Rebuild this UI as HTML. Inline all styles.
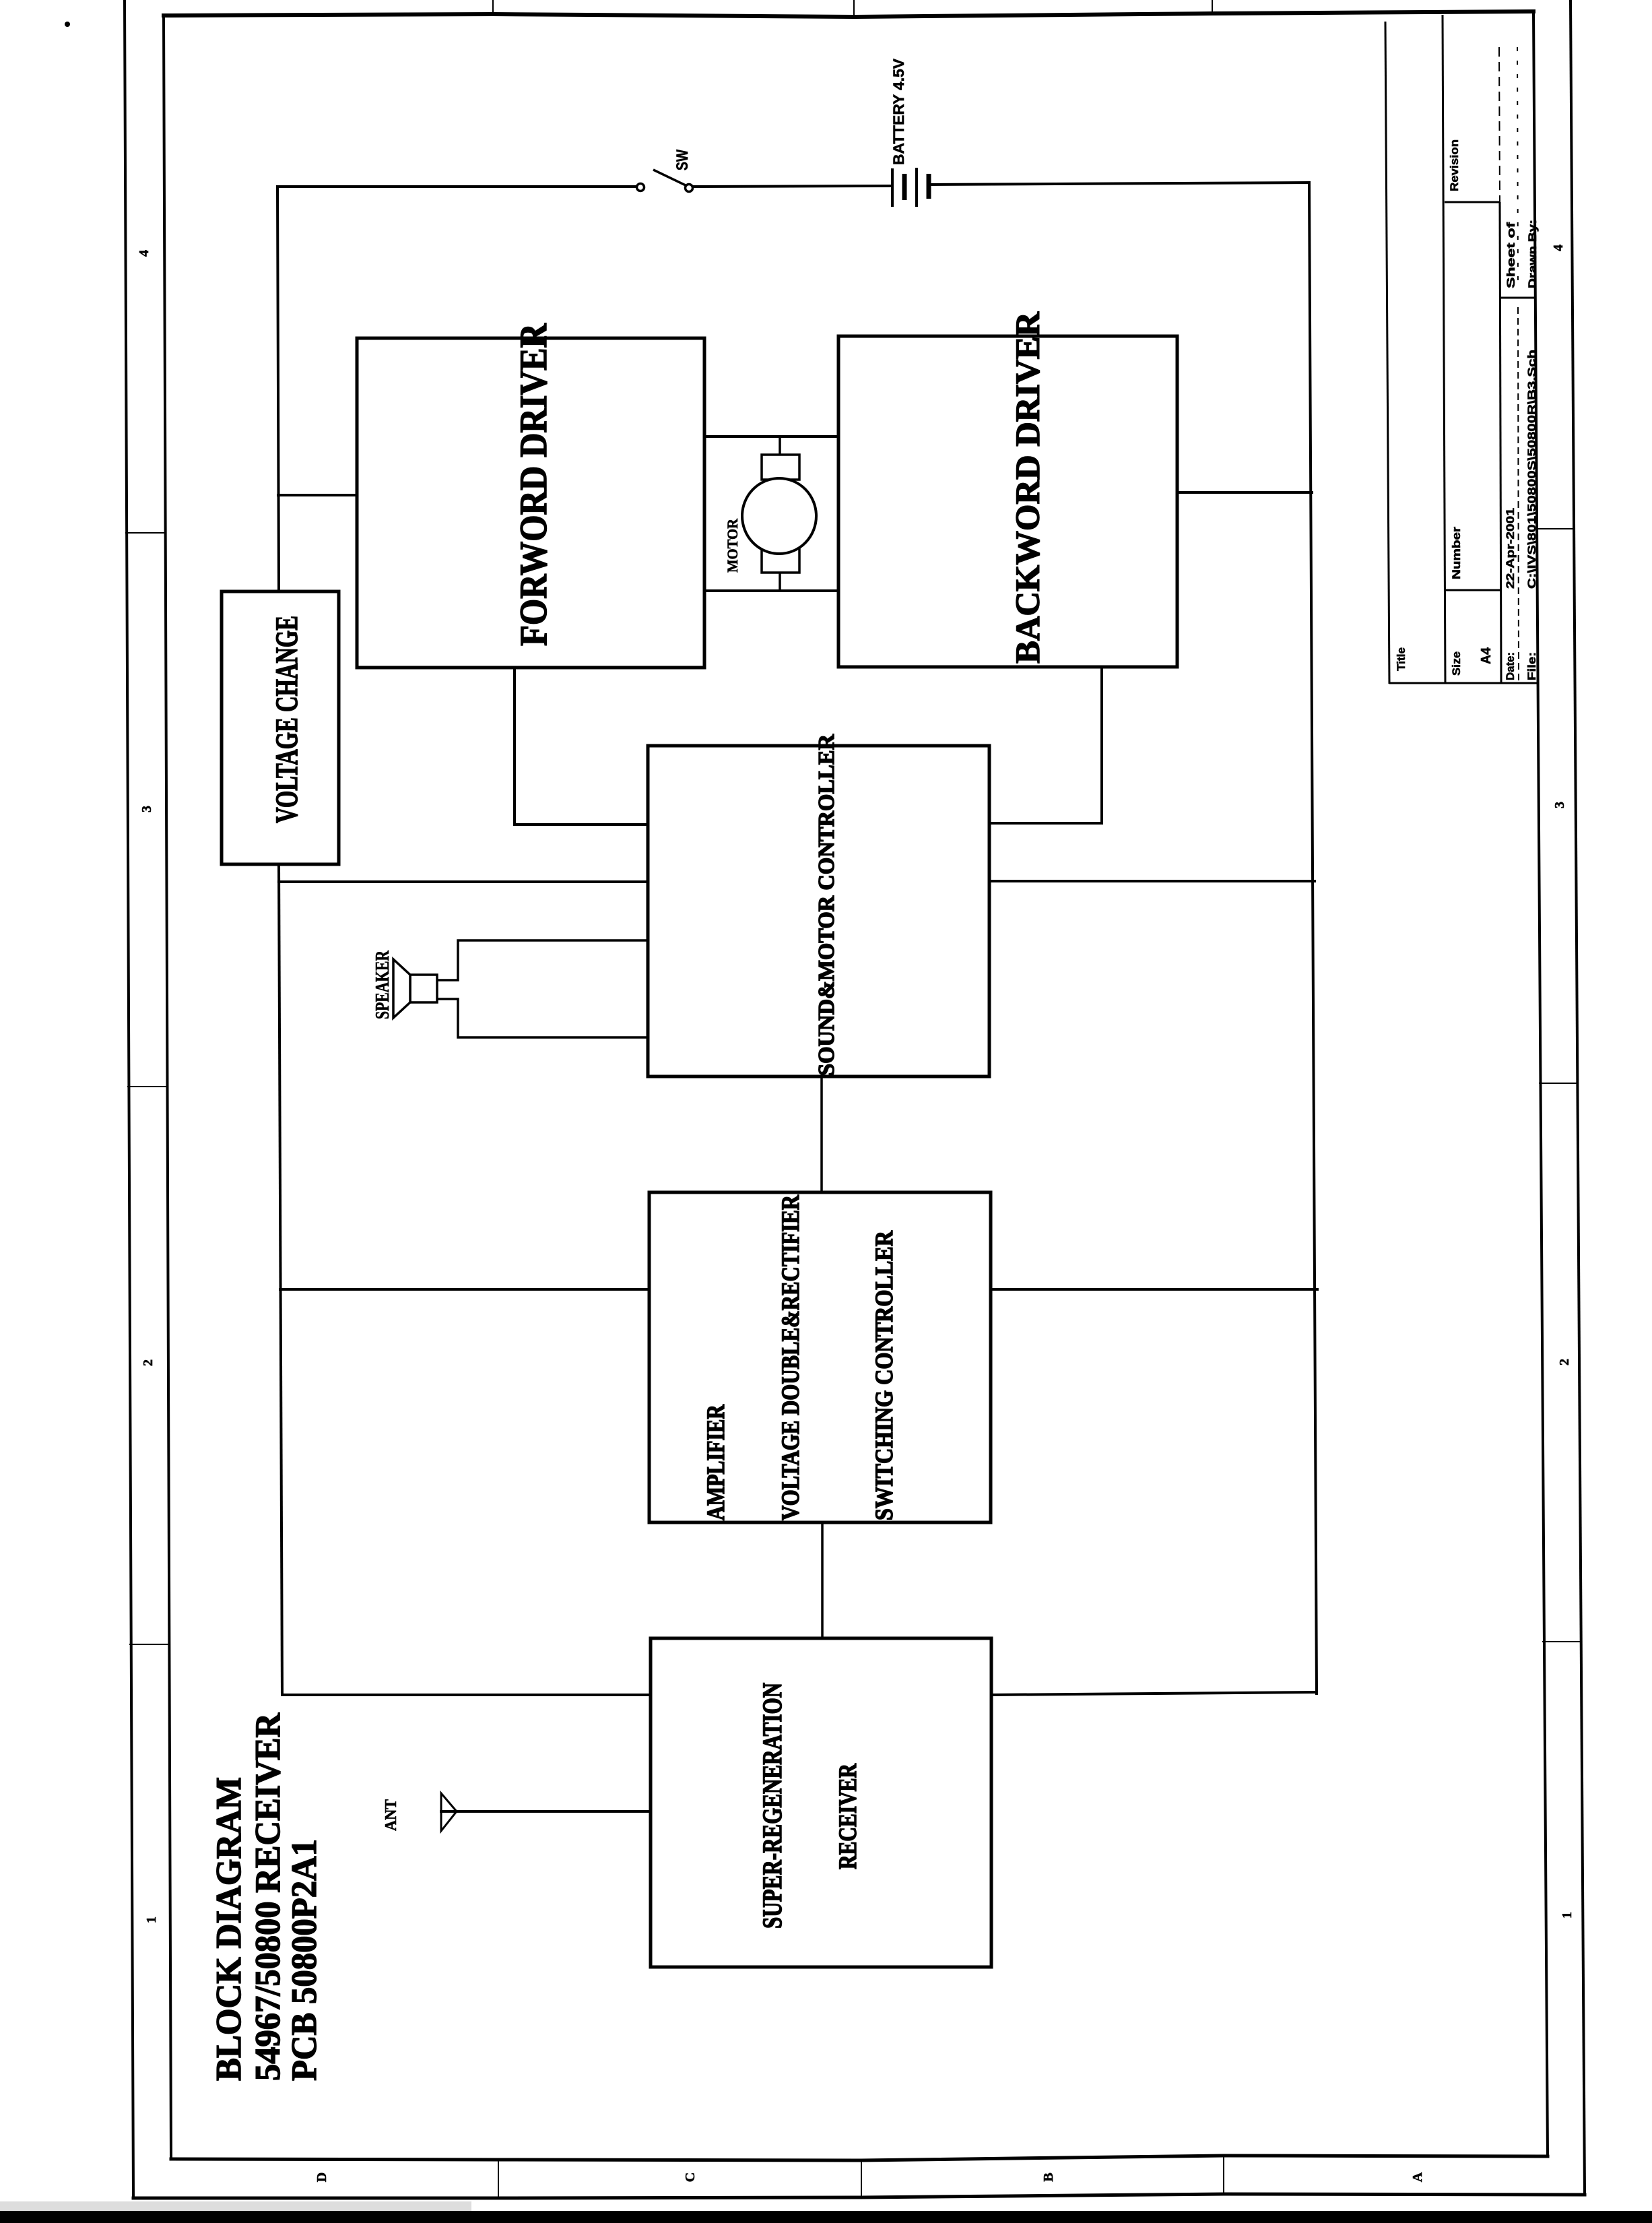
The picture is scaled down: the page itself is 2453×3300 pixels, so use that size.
<!DOCTYPE html>
<html><head><meta charset="utf-8">
<style>
html,body{margin:0;padding:0;background:#fff;}
svg{display:block;}
text{font-family:"Liberation Serif",serif;font-weight:bold;fill:#000;stroke:#000;stroke-width:0.6px;}
.ss{font-family:"Liberation Sans",sans-serif;}
.big{stroke-width:1.5px;}
</style></head><body>
<svg width="2453" height="3300" viewBox="0 0 2453 3300" xmlns="http://www.w3.org/2000/svg">
<rect width="2453" height="3300" fill="#fff"/>

<!-- ============ FRAME ============ -->
<g stroke="#000" fill="none" stroke-linecap="square" stroke-linejoin="miter">
  <line x1="185" y1="0" x2="198" y2="3262" stroke-width="4"/>
  <line x1="2332" y1="0" x2="2353" y2="3257" stroke-width="4"/>
  <polyline points="198,3263 740,3263 1279,3262 1817,3257 2353,3258" stroke-width="5"/>
  <polyline points="243,23 732,21 1268,25 1800,20 2277,17" stroke-width="6"/>
  <line x1="243" y1="23" x2="254" y2="3205" stroke-width="4"/>
  <line x1="2277" y1="17" x2="2298" y2="3201" stroke-width="4"/>
  <polyline points="254,3205 740,3206 1279,3207 1817,3200 2298,3201" stroke-width="5"/>
  <line x1="740" y1="3206" x2="740" y2="3263" stroke-width="2"/>
  <line x1="1279" y1="3207" x2="1279" y2="3262" stroke-width="2"/>
  <line x1="1817" y1="3200" x2="1817" y2="3257" stroke-width="2"/>
  <line x1="732" y1="0" x2="732" y2="21" stroke-width="2"/>
  <line x1="1268" y1="0" x2="1268" y2="25" stroke-width="2"/>
  <line x1="1800" y1="0" x2="1800" y2="20" stroke-width="2"/>
  <line x1="187" y1="791" x2="246" y2="791" stroke-width="2"/>
  <line x1="190" y1="1613" x2="248" y2="1613" stroke-width="2"/>
  <line x1="193" y1="2441" x2="251" y2="2441" stroke-width="2"/>
  <line x1="2282" y1="785" x2="2337" y2="785" stroke-width="2"/>
  <line x1="2286" y1="1608" x2="2342" y2="1608" stroke-width="2"/>
  <line x1="2291" y1="2437" x2="2348" y2="2437" stroke-width="2"/>
</g>
<circle cx="100" cy="36" r="4" fill="#000"/>
<rect x="0" y="3282" width="2453" height="18" fill="#000"/>
<rect x="0" y="3268" width="700" height="14" fill="#bbb" opacity="0.5"/>

<!-- zone labels -->
<g font-size="20">
  <text x="220" y="376" text-anchor="middle" transform="rotate(-90 220 376)">4</text>
  <text x="224" y="1201" text-anchor="middle" transform="rotate(-90 224 1201)">3</text>
  <text x="226" y="2023" text-anchor="middle" transform="rotate(-90 226 2023)">2</text>
  <text x="231" y="2850" text-anchor="middle" transform="rotate(-90 231 2850)">1</text>
  <text x="2320" y="368" text-anchor="middle" transform="rotate(-90 2320 368)">4</text>
  <text x="2322" y="1195" text-anchor="middle" transform="rotate(-90 2322 1195)">3</text>
  <text x="2329" y="2022" text-anchor="middle" transform="rotate(-90 2329 2022)">2</text>
  <text x="2333" y="2843" text-anchor="middle" transform="rotate(-90 2333 2843)">1</text>
  <text x="484" y="3232" text-anchor="middle" transform="rotate(-90 484 3232)">D</text>
  <text x="1031" y="3232" text-anchor="middle" transform="rotate(-90 1031 3232)">C</text>
  <text x="1563" y="3232" text-anchor="middle" transform="rotate(-90 1563 3232)">B</text>
  <text x="2111" y="3232" text-anchor="middle" transform="rotate(-90 2111 3232)">A</text>
</g>

<!-- ============ TITLE BLOCK ============ -->
<g stroke="#000" fill="none" stroke-width="3">
  <line x1="2057" y1="32" x2="2063" y2="1015"/>
  <line x1="2063" y1="1014" x2="2283" y2="1014"/>
  <line x1="2142" y1="22" x2="2146" y2="1014"/>
  <line x1="2145" y1="300" x2="2228" y2="300"/>
  <line x1="2226" y1="70" x2="2227" y2="300" stroke-dasharray="14 8" stroke-width="2"/>
  <line x1="2227" y1="300" x2="2229" y2="1014"/>
  <line x1="2227" y1="442" x2="2281" y2="442"/>
  <line x1="2146" y1="876" x2="2229" y2="876"/>
  <line x1="2254" y1="456" x2="2255" y2="1012" stroke-dasharray="10 6" stroke-width="2"/>
  <line x1="2253" y1="70" x2="2254" y2="430" stroke-dasharray="6 14" stroke-width="2"/>
</g>
<g font-size="17">
  <text class="ss" x="2086" y="996" transform="rotate(-90 2086 996)" textLength="35" lengthAdjust="spacingAndGlyphs">Title</text>
  <text class="ss" x="2168" y="1003" transform="rotate(-90 2168 1003)" textLength="36" lengthAdjust="spacingAndGlyphs">Size</text>
  <text class="ss" x="2213" y="986" font-size="20" transform="rotate(-90 2213 986)" textLength="25" lengthAdjust="spacingAndGlyphs">A4</text>
  <text class="ss" x="2168" y="860" transform="rotate(-90 2168 860)" textLength="78" lengthAdjust="spacingAndGlyphs">Number</text>
  <text class="ss" x="2165" y="284" transform="rotate(-90 2165 284)" textLength="77" lengthAdjust="spacingAndGlyphs">Revision</text>
  <text class="ss" x="2248" y="1010" transform="rotate(-90 2248 1010)" textLength="42" lengthAdjust="spacingAndGlyphs">Date:</text>
  <text class="ss" x="2248" y="874" transform="rotate(-90 2248 874)" textLength="120" lengthAdjust="spacingAndGlyphs">22-Apr-2001</text>
  <text class="ss" x="2280" y="1010" transform="rotate(-90 2280 1010)" textLength="42" lengthAdjust="spacingAndGlyphs">File:</text>
  <text class="ss" x="2280" y="874" transform="rotate(-90 2280 874)" textLength="355" lengthAdjust="spacingAndGlyphs">C:\IVS\801\50800S\50800R\B3.Sch</text>
  <text class="ss" x="2249" y="428" transform="rotate(-90 2249 428)" textLength="98" lengthAdjust="spacingAndGlyphs">Sheet    of</text>
  <text class="ss" x="2281" y="428" transform="rotate(-90 2281 428)" textLength="102" lengthAdjust="spacingAndGlyphs">Drawn By:</text>
</g>

<!-- ============ WIRES ============ -->
<g stroke="#000" fill="none" stroke-width="4" stroke-linecap="square">
  <polyline points="414,878 412,277 946,277"/>
  <line x1="1028" y1="277" x2="1325" y2="276"/>
  <polyline points="1381,274 1944,271 1955,2514"/>
  <line x1="414" y1="1283" x2="419" y2="2516"/>
  <line x1="413" y1="735" x2="530" y2="735"/>
  <line x1="1748" y1="731" x2="1948" y2="731"/>
  <line x1="1046" y1="648" x2="1245" y2="648"/>
  <line x1="1046" y1="877" x2="1245" y2="877"/>
  <polyline points="764,991 764,1224 962,1224"/>
  <polyline points="1636,990 1636,1222 1469,1222"/>
  <line x1="414" y1="1309" x2="962" y2="1309"/>
  <line x1="1469" y1="1308" x2="1952" y2="1308"/>
  <polyline points="962,1396 680,1396 680,1455 649,1455" stroke-width="3.5"/>
  <polyline points="962,1540 680,1540 680,1483 649,1483" stroke-width="3.5"/>
  <line x1="1220" y1="1598" x2="1220" y2="1770" stroke-width="3.5"/>
  <line x1="1221" y1="2260" x2="1221" y2="2432" stroke-width="3.5"/>
  <line x1="416" y1="1914" x2="964" y2="1914"/>
  <line x1="1471" y1="1914" x2="1956" y2="1914"/>
  <line x1="419" y1="2516" x2="966" y2="2516"/>
  <line x1="1472" y1="2516" x2="1955" y2="2512"/>
  <line x1="655" y1="2689" x2="966" y2="2689"/>
  <polyline points="678,2689 655,2662 655,2718 678,2689" stroke-width="3" stroke-linejoin="miter"/>
</g>

<!-- switch -->
<g stroke="#000" stroke-width="3.5" fill="#fff">
  <circle cx="951" cy="278" r="5.5"/>
  <circle cx="1023" cy="279" r="5.5"/>
  <line x1="970" y1="252" x2="1018" y2="275"/>
</g>
<!-- battery -->
<g stroke="#000" fill="none">
  <line x1="1325" y1="250" x2="1325" y2="307" stroke-width="4"/>
  <line x1="1343" y1="258" x2="1343" y2="297" stroke-width="7"/>
  <line x1="1361" y1="249" x2="1361" y2="307" stroke-width="4"/>
  <line x1="1379" y1="258" x2="1379" y2="295" stroke-width="7"/>
</g>

<!-- ============ BLOCKS ============ -->
<g stroke="#000" stroke-width="5" fill="none">
  <rect x="530" y="502" width="516" height="489"/>
  <rect x="1245" y="499" width="503" height="491"/>
  <rect x="329" y="878" width="174" height="405"/>
  <rect x="962" y="1107" width="507" height="491"/>
  <rect x="964" y="1770" width="507" height="490"/>
  <rect x="966" y="2432" width="506" height="488"/>
</g>

<!-- motor -->
<g stroke="#000" stroke-width="3.5" fill="#fff">
  <line x1="1158" y1="648" x2="1158" y2="675"/>
  <line x1="1158" y1="850" x2="1158" y2="877"/>
  <rect x="1131" y="675" width="56" height="37"/>
  <rect x="1131" y="814" width="56" height="36"/>
  <ellipse cx="1157" cy="766" rx="55" ry="56" stroke-width="4"/>
</g>

<!-- speaker -->
<g stroke="#000" stroke-width="3.5" fill="#fff" stroke-linejoin="miter">
  <rect x="609" y="1447" width="40" height="41"/>
  <polygon points="609,1447 584,1424 584,1511 609,1488"/>
</g>

<!-- ============ LABELS ============ -->
<text x="1021" y="253" font-size="24" class="ss" transform="rotate(-90 1021 253)" textLength="31" lengthAdjust="spacingAndGlyphs">SW</text>
<text x="1342" y="245" font-size="22" class="ss" transform="rotate(-90 1342 245)" textLength="158" lengthAdjust="spacingAndGlyphs">BATTERY 4.5V</text>
<text x="1095" y="850" font-size="22" transform="rotate(-90 1095 850)" textLength="80" lengthAdjust="spacingAndGlyphs">MOTOR</text>
<text x="577" y="1513" font-size="28" transform="rotate(-90 577 1513)" textLength="102" lengthAdjust="spacingAndGlyphs">SPEAKER</text>
<text x="588" y="2718" font-size="24" transform="rotate(-90 588 2718)" textLength="47" lengthAdjust="spacingAndGlyphs">ANT</text>

<text class="big" x="811" y="959" font-size="57" transform="rotate(-90 811 959)" textLength="479" lengthAdjust="spacingAndGlyphs">FORWORD DRIVER</text>
<text class="big" x="1543" y="985" font-size="51" transform="rotate(-90 1543 985)" textLength="522" lengthAdjust="spacingAndGlyphs">BACKWORD DRIVER</text>
<text class="big" x="441" y="1222" font-size="47" transform="rotate(-90 441 1222)" textLength="308" lengthAdjust="spacingAndGlyphs">VOLTAGE CHANGE</text>
<text class="big" x="1238" y="1597" font-size="34" transform="rotate(-90 1238 1597)" textLength="507" lengthAdjust="spacingAndGlyphs">SOUND&amp;MOTOR CONTROLLER</text>
<text class="big" x="1075" y="2257" font-size="37" transform="rotate(-90 1075 2257)" textLength="172" lengthAdjust="spacingAndGlyphs">AMPLIFIER</text>
<text class="big" x="1186" y="2257" font-size="37" transform="rotate(-90 1186 2257)" textLength="483" lengthAdjust="spacingAndGlyphs">VOLTAGE DOUBLE&amp;RECTIFIER</text>
<text class="big" x="1325" y="2257" font-size="37" transform="rotate(-90 1325 2257)" textLength="430" lengthAdjust="spacingAndGlyphs">SWITCHING CONTROLLER</text>
<text class="big" x="1160" y="2863" font-size="40" transform="rotate(-90 1160 2863)" textLength="365" lengthAdjust="spacingAndGlyphs">SUPER-REGENERATION</text>
<text class="big" x="1271" y="2775" font-size="37" transform="rotate(-90 1271 2775)" textLength="157" lengthAdjust="spacingAndGlyphs">RECEIVER</text>

<text class="big" x="357" y="3089" font-size="53" transform="rotate(-90 357 3089)" textLength="451" lengthAdjust="spacingAndGlyphs">BLOCK DIAGRAM</text>
<text class="big" x="415" y="3089" font-size="53" transform="rotate(-90 415 3089)" textLength="546" lengthAdjust="spacingAndGlyphs">54967/50800 RECEIVER</text>
<text class="big" x="469" y="3089" font-size="53" transform="rotate(-90 469 3089)" textLength="359" lengthAdjust="spacingAndGlyphs">PCB 50800P2A1</text>

</svg>
</body></html>
